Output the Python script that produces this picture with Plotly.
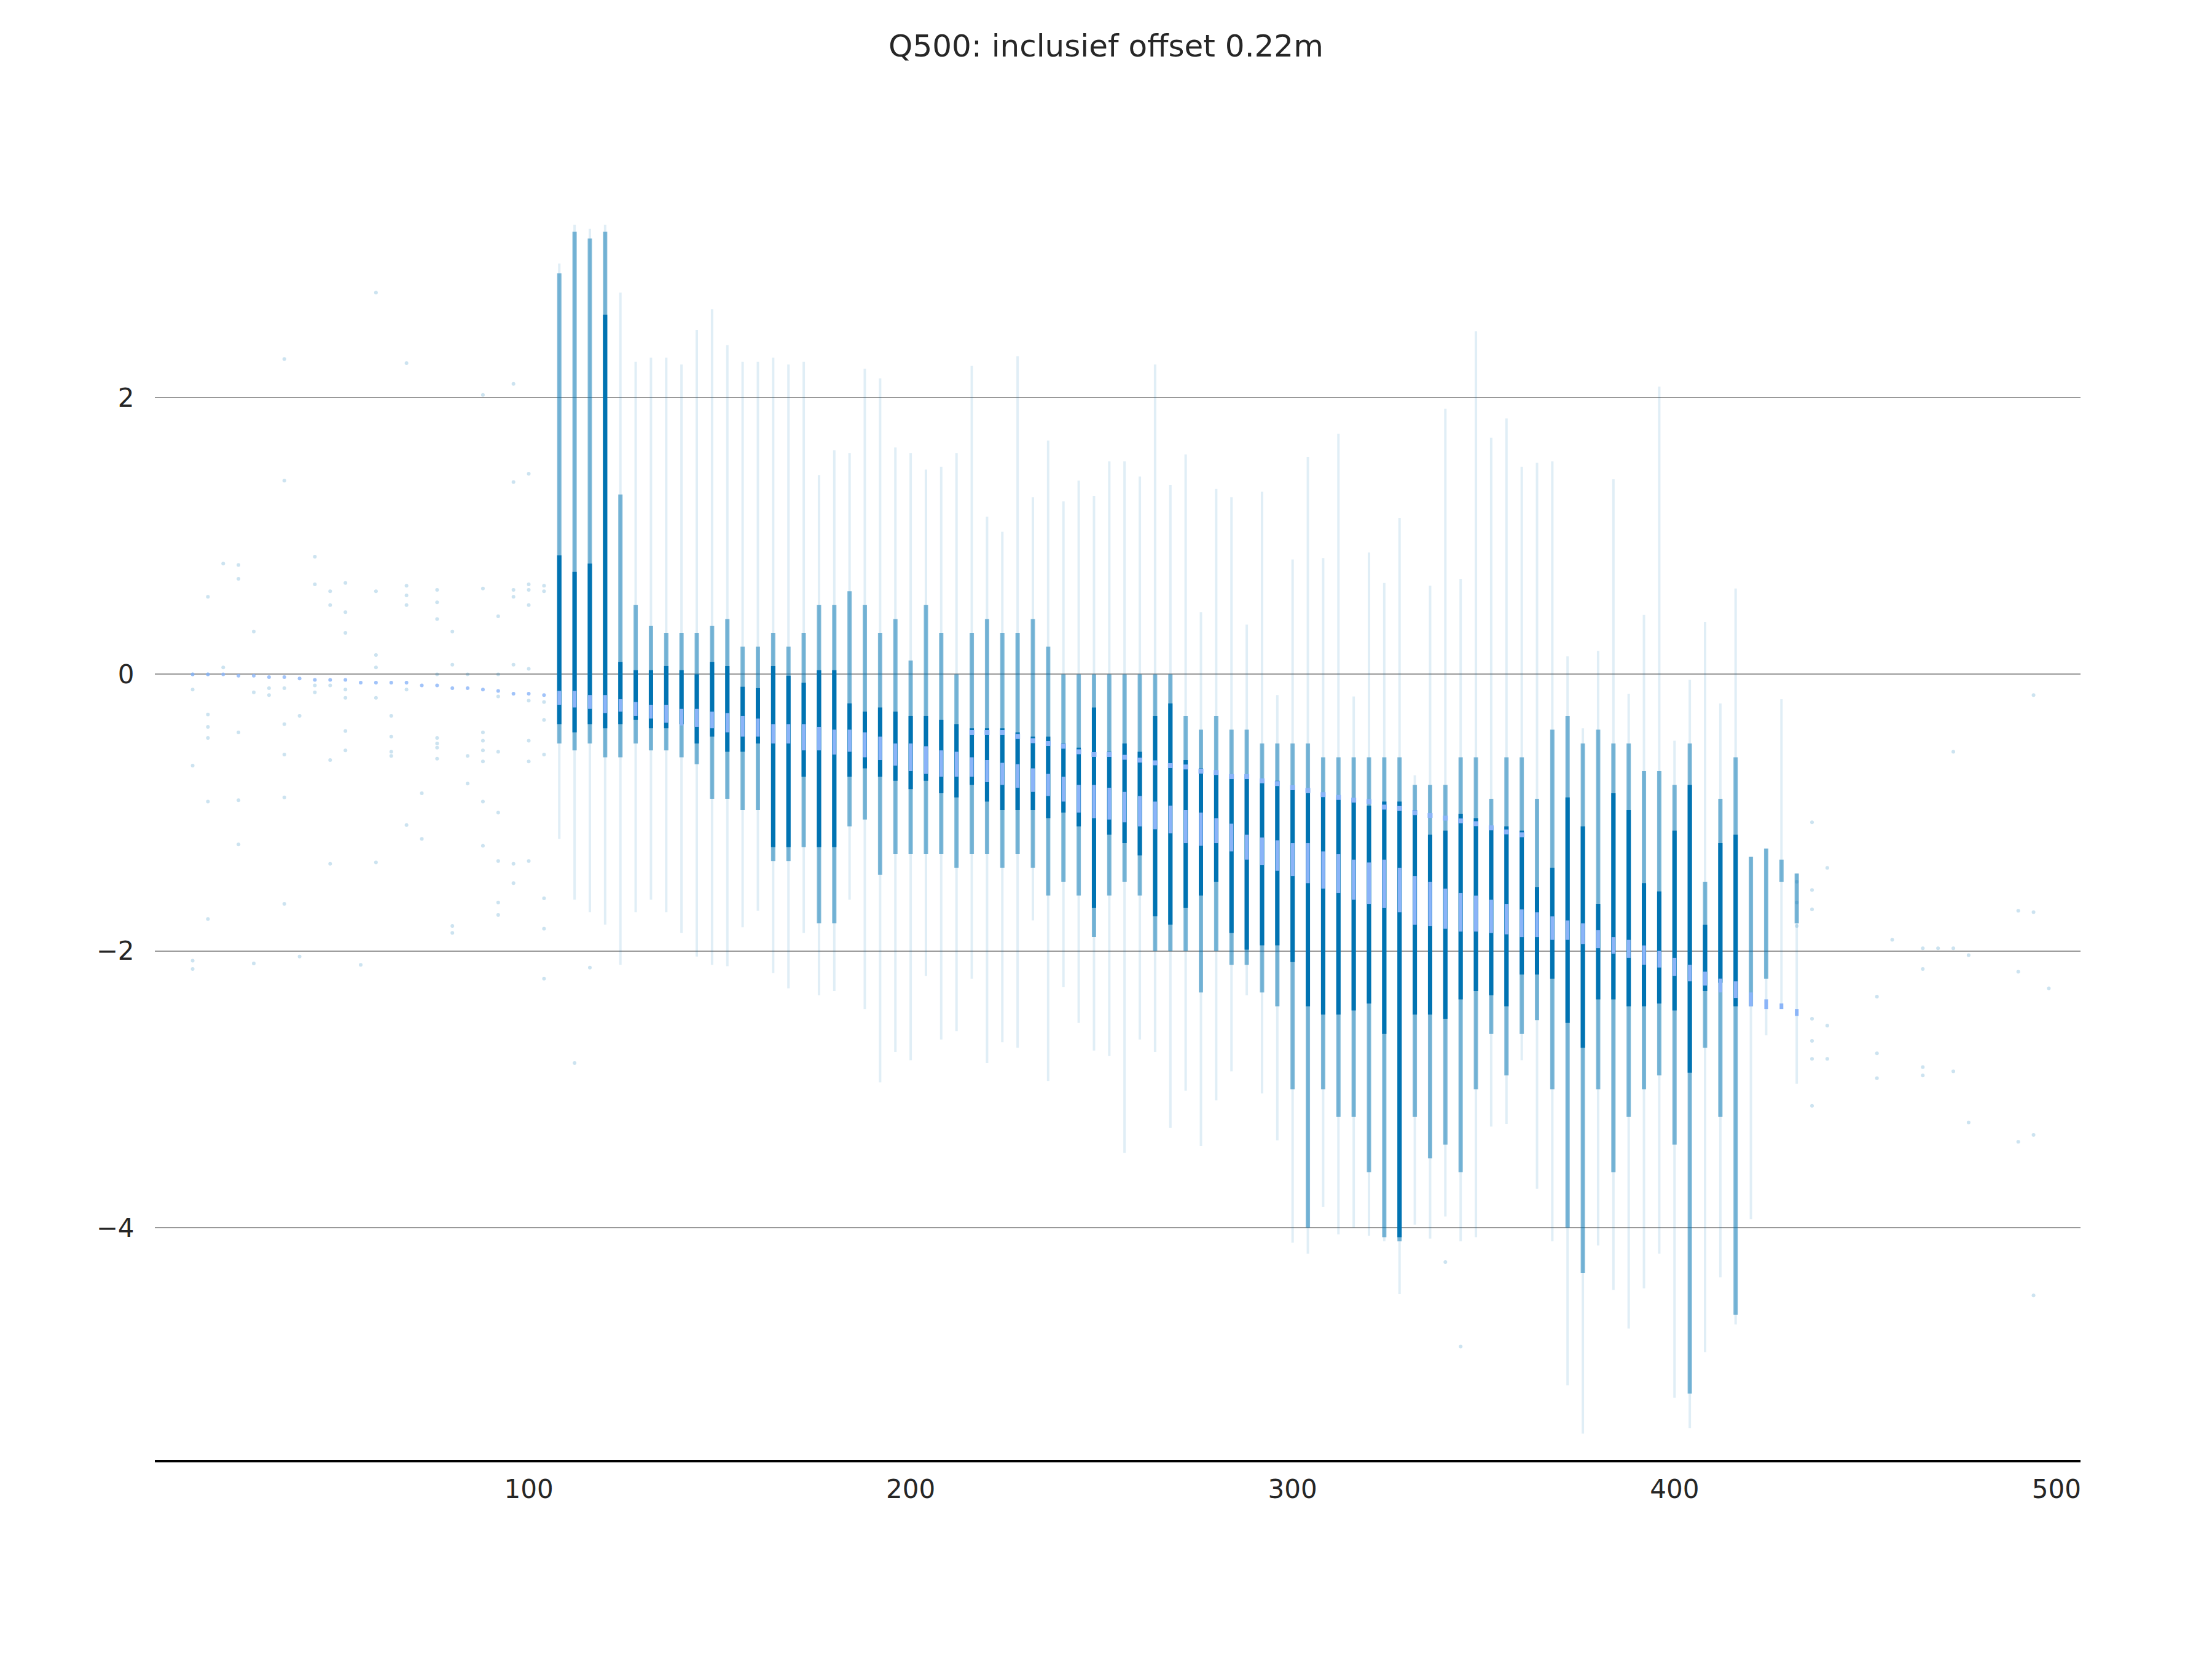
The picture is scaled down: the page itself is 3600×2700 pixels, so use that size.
import plotly.graph_objects as go

cols = [108, 112, 116, 120, 124, 128, 132, 136, 140, 144, 148, 152, 156, 160,
        164, 168, 172, 176, 180, 184, 188, 192, 196, 200, 204, 208, 212, 216,
        220, 224, 228, 232, 236, 240, 244, 248, 252, 256, 260, 264, 268, 272,
        276, 280, 284, 288, 292, 296, 300, 304, 308, 312, 316, 320, 324, 328,
        332, 336, 340, 344, 348, 352, 356, 360, 364, 368, 372, 376, 380, 384,
        388, 392, 396, 400, 404, 408, 412, 416, 420, 424, 428, 432]

# outermost sparse points of each column
faint_top = [2.97, 3.25, 3.22, 3.25, 2.76, 2.26, 2.29, 2.29, 2.24, 2.49, 2.64, 2.38, 2.26, 2.26,
             2.29, 2.24, 2.26, 1.44, 1.62, 1.60, 2.21, 2.14, 1.64, 1.60, 1.48, 1.50, 1.60, 2.23,
             1.14, 1.03, 2.30, 1.28, 1.69, 1.25, 1.40, 1.29, 1.54, 1.54, 1.43, 2.24, 1.37, 1.59,
             0.45, 1.34, 1.28, 0.36, 1.32, -0.15, 0.83, 1.57, 0.84, 1.74, -0.16, 0.88, 0.66, 1.13,
             -0.73, 0.64, 1.92, 0.69, 2.48, 1.71, 1.85, 1.50, 1.53, 1.54, 0.13, -0.39, 0.17, 1.41,
             -0.14, 0.43, 2.08, -0.48, -0.04, 0.38, -0.21, 0.62, -1.32, -1.26, -0.18, -1.44]
faint_bot = [-1.19, -1.63, -1.72, -1.81, -2.10, -1.72, -1.63, -1.72, -1.87, -2.04, -2.10, -2.11, -1.83, -1.71,
             -2.16, -2.27, -1.87, -2.32, -2.29, -1.63, -2.42, -2.95, -2.73, -2.79, -2.18, -2.64, -2.58, -2.20,
             -2.81, -2.66, -2.70, -1.78, -2.94, -2.26, -2.52, -2.72, -2.76, -3.46, -2.64, -2.73, -3.28, -3.01,
             -3.41, -3.08, -2.87, -2.32, -3.03, -3.37, -4.11, -4.19, -3.85, -4.05, -4.00, -4.06, -4.10, -4.48,
             -3.98, -4.08, -3.92, -4.10, -4.07, -3.27, -3.25, -2.79, -3.72, -4.10, -5.14, -5.49, -4.13, -4.45,
             -4.73, -4.44, -4.19, -5.23, -5.45, -4.90, -4.36, -4.70, -3.94, -2.61, -2.40, -2.96]

# medium density band
mid_top = [2.90, 3.20, 3.15, 3.20, 1.30, 0.50, 0.35, 0.30, 0.30, 0.30, 0.35, 0.40, 0.20, 0.20,
           0.30, 0.20, 0.30, 0.50, 0.50, 0.60, 0.50, 0.30, 0.40, 0.10, 0.50, 0.30, 0.00, 0.30,
           0.40, 0.30, 0.30, 0.40, 0.20, 0.00, 0.00, 0.00, 0.00, 0.00, 0.00, 0.00, 0.00, -0.30,
           -0.40, -0.30, -0.40, -0.40, -0.50, -0.50, -0.50, -0.50, -0.60, -0.60, -0.60, -0.60, -0.60, -0.60,
           -0.80, -0.80, -0.80, -0.60, -0.60, -0.90, -0.60, -0.60, -0.90, -0.40, -0.30, -0.50, -0.40, -0.50,
           -0.50, -0.70, -0.70, -0.80, -0.50, -1.50, -0.90, -0.60, -1.32, -1.26, -1.34, -1.44]
mid_bot = [-0.50, -0.55, -0.50, -0.60, -0.60, -0.50, -0.55, -0.55, -0.60, -0.65, -0.90, -0.90, -0.98, -0.98,
           -1.35, -1.35, -1.25, -1.80, -1.80, -1.10, -1.05, -1.45, -1.30, -1.30, -1.30, -1.30, -1.40, -1.30,
           -1.30, -1.40, -1.30, -1.40, -1.60, -1.50, -1.60, -1.90, -1.60, -1.50, -1.60, -2.00, -2.00, -2.00,
           -2.30, -2.00, -2.10, -2.10, -2.30, -2.40, -3.00, -4.00, -3.00, -3.20, -3.20, -3.60, -4.07, -4.10,
           -3.20, -3.50, -3.40, -3.60, -3.00, -2.60, -2.90, -2.60, -2.50, -3.00, -4.00, -4.33, -3.00, -3.60,
           -3.20, -3.00, -2.90, -3.40, -5.20, -2.70, -3.20, -4.63, -2.40, -2.20, -1.50, -1.80]

# solid dark core (None where the column has no solid core)
core_top = [0.86, 0.74, 0.80, 2.60, 0.09, 0.03, 0.03, 0.06, 0.03, 0.00, 0.09, 0.06, -0.09, -0.10,
            0.06, -0.01, -0.06, 0.03, 0.03, -0.21, -0.27, -0.24, -0.27, -0.30, -0.30, -0.33, -0.36, -0.39,
            -0.39, -0.39, -0.42, -0.45, -0.45, -0.50, -0.53, -0.24, -0.56, -0.50, -0.56, -0.30, -0.21, -0.62,
            -0.68, -0.71, -0.74, -0.74, -0.77, -0.77, -0.83, -0.86, -0.86, -0.89, -0.92, -0.95, -0.92, -0.92,
            -0.98, -1.16, -1.13, -1.01, -1.04, -1.10, -1.10, -1.13, -1.54, -1.40, -0.89, -1.10, -1.66, -0.86,
            -0.98, -1.51, -1.57, -1.13, -0.80, -1.81, -1.22, -1.16, None, None, None, None]
core_bot = [-0.36, -0.42, -0.36, -0.39, -0.36, -0.33, -0.39, -0.39, -0.36, -0.50, -0.45, -0.56, -0.56, -0.50,
            -1.25, -1.25, -0.74, -1.25, -1.25, -0.74, -0.68, -0.74, -0.77, -0.83, -0.77, -0.86, -0.89, -0.80,
            -0.92, -0.98, -0.98, -0.98, -1.04, -1.00, -1.10, -1.69, -1.16, -1.22, -1.31, -1.75, -1.81, -1.69,
            -1.60, -1.50, -1.87, -1.99, -1.96, -1.96, -2.08, -2.40, -2.46, -2.46, -2.43, -2.38, -2.60, -4.07,
            -2.46, -2.46, -2.49, -2.35, -2.29, -2.32, -2.40, -2.17, -2.17, -2.20, -2.52, -2.70, -2.35, -2.35,
            -2.40, -2.40, -2.38, -2.43, -2.88, -2.29, -2.23, -2.40, None, None, None, None]

# light blue series: band inside each column and the cap at the top of the core
light_top = [-0.12, -0.12, -0.15, -0.15, -0.18, -0.20, -0.22, -0.22, -0.25, -0.25, -0.27, -0.28, -0.30, -0.32,
             -0.36, -0.36, -0.36, -0.38, -0.40, -0.40, -0.42, -0.45, -0.50, -0.50, -0.52, -0.55, -0.56, -0.60,
             -0.62, -0.64, -0.65, -0.68, -0.72, -0.74, -0.80, -0.80, -0.82, -0.85, -0.88, -0.92, -0.95, -0.98,
             -1.00, -1.04, -1.08, -1.16, -1.18, -1.20, -1.22, -1.22, -1.28, -1.30, -1.34, -1.36, -1.34, -1.40,
             -1.46, -1.50, -1.55, -1.58, -1.60, -1.63, -1.66, -1.70, -1.72, -1.75, -1.78, -1.80, -1.85, -1.90,
             -1.92, -1.96, -2.00, -2.05, -2.10, -2.15, -2.20, -2.22, -2.30, -2.35, -2.38, -2.42]
light_bot = [-0.22, -0.24, -0.25, -0.28, -0.27, -0.30, -0.32, -0.35, -0.37, -0.38, -0.39, -0.42, -0.45, -0.45,
             -0.50, -0.50, -0.55, -0.55, -0.58, -0.56, -0.60, -0.62, -0.66, -0.70, -0.72, -0.74, -0.74, -0.74,
             -0.78, -0.80, -0.82, -0.85, -0.88, -0.92, -1.00, -1.04, -1.05, -1.07, -1.10, -1.12, -1.15, -1.22,
             -1.24, -1.22, -1.28, -1.34, -1.38, -1.42, -1.46, -1.51, -1.55, -1.58, -1.63, -1.66, -1.69, -1.72,
             -1.81, -1.82, -1.84, -1.86, -1.86, -1.87, -1.88, -1.90, -1.90, -1.92, -1.92, -1.95, -1.98, -2.02,
             -2.05, -2.10, -2.12, -2.18, -2.22, -2.25, -2.30, -2.34, -2.40, -2.42, -2.42, -2.47]
light_cap = [None] * 27 + [
             -0.42, -0.42, -0.42, -0.45, -0.48, -0.50, -0.52, -0.56, -0.58, -0.58, -0.60, -0.62, -0.64,
             -0.66, -0.67, -0.70, -0.71, -0.74, -0.74, -0.77, -0.79, -0.82, -0.84, -0.87, -0.89, -0.91,
             -0.92, -0.96, -0.97, -1.00, -1.02, -1.04, -1.06, -1.08, -1.11, -1.14, -1.16] + [None] * 18

# light blue points outside the columns
light_x = [12, 16, 20, 24, 28, 32, 36, 40, 44, 48, 52, 56, 60, 64, 68, 72, 76, 80, 84, 88, 92, 96, 100, 104]
light_y = [0.0, 0.0, 0.0, -0.01, -0.01, -0.02, -0.02, -0.03, -0.04, -0.04, -0.04, -0.06,
           -0.06, -0.06, -0.06, -0.08, -0.08, -0.10, -0.10, -0.11, -0.12, -0.14, -0.14, -0.15]

# isolated points away from the columns
sparse_x = ([12] * 5 + [16] * 7 + [20] * 2 + [24] * 5 + [28] * 3 + [32] * 2 + [36] * 7 + [40] * 2
            + [44] * 4 + [48] * 5 + [52] * 7 + [56] + [60] * 6 + [64] * 4 + [68] * 6 + [72] * 2
            + [76] * 8 + [80] * 4 + [84] * 3 + [88] * 8 + [92] * 8 + [96] * 7 + [100] * 9 + [104] * 8
            + [112, 116, 340, 344] + [432] * 3 + [436] * 7 + [440] * 3 + [453] * 3 + [457] + [465] * 4
            + [469] + [473] * 3 + [477] * 2 + [490] * 3 + [494] * 4 + [498])
sparse_y = [0.0, -0.11, -0.66, -2.07, -2.13,
            0.56, 0.0, -0.29, -0.38, -0.46, -0.92, -1.77,
            0.8, 0.05,
            0.79, 0.69, -0.42, -0.91, -1.23,
            0.31, -0.13, -2.09,
            -0.1, -0.15,
            2.28, 1.4, -0.1, -0.36, -0.58, -0.89, -1.66,
            -0.3, -2.04,
            0.85, 0.65, -0.08, -0.13,
            0.6, 0.5, -0.08, -0.62, -1.37,
            0.66, 0.45, 0.3, -0.11, -0.17, -0.41, -0.55,
            -2.1,
            2.76, 0.6, 0.14, 0.05, -0.17, -1.36,
            -0.3, -0.45, -0.56, -0.59,
            2.25, 0.64, 0.57, 0.5, -0.11, -1.09,
            -0.86, -1.19,
            0.61, 0.52, 0.4, 0.0, -0.46, -0.5, -0.53, -0.61,
            0.31, 0.07, -1.82, -1.87,
            0.0, -0.59, -0.79,
            2.02, 0.62, -0.42, -0.48, -0.55, -0.63, -0.92, -1.24,
            0.42, 0.0, -0.16, -0.56, -1.0, -1.35, -1.65, -1.74,
            2.1, 1.39, 0.61, 0.56, 0.07, -1.37, -1.51,
            1.45, 0.65, 0.61, 0.5, 0.04, -0.19, -0.48, -0.63, -1.35,
            0.64, 0.6, -0.2, -0.33, -0.58, -1.62, -1.84, -2.2,
            -2.81, -2.12, -4.25, -4.86,
            -1.5, -1.65, -1.82,
            -1.07, -1.56, -1.7, -2.49, -2.65, -2.78, -3.12,
            -1.4, -2.54, -2.78,
            -2.33, -2.74, -2.92,
            -1.92,
            -1.98, -2.13, -2.84, -2.9,
            -1.98,
            -0.56, -1.98, -2.87,
            -2.03, -3.24,
            -1.71, -2.15, -3.38,
            -0.15, -1.72, -3.33, -4.49,
            -2.27]

title = "Q500: inclusief offset 0.22m"
x_ticks = [100, 200, 300, 400, 500]
y_ticks = [-4, -2, 0, 2]

BLUE = "#0173B2"
LIGHT = "#8AB4F8"
FONT = "DejaVu Sans"
PAGE_PAD = 8  # the html body margin shifts the plot by this much


def segments(xs, lo, hi):
    # vertical segments, one per column, separated by gaps
    X, Y = [], []
    for x, a, b in zip(xs, lo, hi):
        if a is None or b is None:
            continue
        X += [x, x, None]
        Y += [a, b, None]
    return X, Y


fig = go.Figure()

fx, fy = segments(cols, faint_bot, faint_top)
fig.add_trace(go.Scatter(x=fx, y=fy, mode="lines",
                         line=dict(color="rgba(1,115,178,0.12)", width=4)))
mx, my = segments(cols, mid_bot, mid_top)
fig.add_trace(go.Scatter(x=mx, y=my, mode="lines",
                         line=dict(color="rgba(1,115,178,0.5)", width=7)))
cx, cy = segments(cols, core_bot, core_top)
fig.add_trace(go.Scatter(x=cx, y=cy, mode="lines",
                         line=dict(color=BLUE, width=7)))
fig.add_trace(go.Scatter(x=sparse_x, y=sparse_y, mode="markers",
                         marker=dict(color="rgba(1,115,178,0.2)", size=6, line=dict(width=0))))
lx, ly = segments(cols, light_bot, light_top)
fig.add_trace(go.Scatter(x=lx, y=ly, mode="lines",
                         line=dict(color=LIGHT, width=6)))
fig.add_trace(go.Scatter(x=cols, y=light_cap, mode="markers",
                         marker=dict(color=LIGHT, size=8, symbol="square", line=dict(width=0))))
fig.add_trace(go.Scatter(x=light_x, y=light_y, mode="markers",
                         marker=dict(color=LIGHT, size=6, line=dict(width=0), opacity=0.8)))

fig.update_layout(
    width=3600, height=2700,
    paper_bgcolor="white", plot_bgcolor="white",
    showlegend=False,
    margin=dict(l=252 - PAGE_PAD, r=214 + PAGE_PAD, t=152 - PAGE_PAD, b=324 + PAGE_PAD),
    font=dict(family=FONT, size=42, color="#262626"),
    title=dict(text=title, x=(1800 - PAGE_PAD) / 3600, xref="container", xanchor="center",
               y=1 - (74 - PAGE_PAD) / 2700, yref="container", yanchor="middle",
               font=dict(family=FONT, size=50, color="#262626")),
    xaxis=dict(range=[2.1, 506.3], tickvals=x_ticks, showgrid=False, zeroline=False,
               showline=True, linecolor="black", linewidth=4,
               ticks="outside", ticklen=8, tickcolor="rgba(0,0,0,0)",
               tickfont=dict(size=42, color="#262626")),
    yaxis=dict(range=[-5.68, 4.2], tickvals=y_ticks, showgrid=True,
               gridcolor="#999999", gridwidth=2, zeroline=False, showline=False,
               ticks="outside", ticklen=24, tickcolor="rgba(0,0,0,0)",
               tickfont=dict(size=42, color="#262626")),
)

fig.write_html("out.html")
